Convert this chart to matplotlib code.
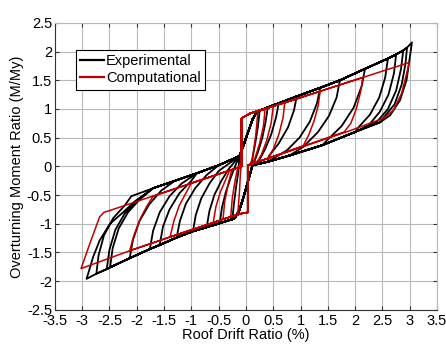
import numpy as np
import matplotlib.pyplot as plt

# ---- experimental loops ----
# envelope peaks, positive drift side
exp_pos_x = [0.25, 0.4, 0.6, 0.93, 1.36, 1.72, 2.18, 2.6, 2.75, 2.88, 2.95, 3.04]
exp_pos_y = [0.97, 1.03, 1.1, 1.22, 1.37, 1.5, 1.7, 1.88, 1.95, 2.02, 2.07, 2.16]
# envelope peaks, negative drift side
exp_neg_x = [-0.25, -0.48, -0.72, -0.97, -1.27, -1.58, -1.76, -2.13, -2.49, -2.55, -2.74, -2.92]
exp_neg_y = [-0.92, -0.99, -1.06, -1.13, -1.24, -1.37, -1.44, -1.6, -1.76, -1.79, -1.87, -1.96]
# unloading branches after each positive peak
exp_pos_unl_x = [[0.22, 0.17, 0.12], [0.36, 0.3, 0.22, 0.16], [0.55, 0.46, 0.35, 0.25],
                 [0.88, 0.77, 0.6, 0.42], [1.3, 1.17, 0.98, 0.75], [1.66, 1.52, 1.32, 1.05],
                 [2.12, 1.97, 1.75, 1.5], [2.55, 2.44, 2.27, 2.05], [2.71, 2.61, 2.45, 2.25],
                 [2.84, 2.75, 2.6, 2.4], [2.92, 2.85, 2.72, 2.52], [3.0, 2.94, 2.82, 2.64, 2.46]]
exp_pos_unl_y = [[0.7, 0.4, 0.15], [0.78, 0.5, 0.25, 0.1], [0.85, 0.55, 0.3, 0.12],
                 [0.98, 0.68, 0.4, 0.18], [1.1, 0.78, 0.5, 0.28], [1.2, 0.88, 0.6, 0.34],
                 [1.4, 1.02, 0.7, 0.47], [1.55, 1.2, 0.9, 0.67], [1.62, 1.25, 0.95, 0.72],
                 [1.7, 1.32, 1.0, 0.78], [1.78, 1.42, 1.08, 0.85], [1.9, 1.5, 1.15, 0.89, 0.77]]
# unloading branches after each negative peak
exp_neg_unl_x = [[-0.22, -0.18, -0.14], [-0.44, -0.37, -0.28, -0.2], [-0.67, -0.58, -0.45, -0.32],
                 [-0.92, -0.82, -0.67, -0.5], [-1.21, -1.1, -0.93, -0.72], [-1.52, -1.4, -1.22, -1.0],
                 [-1.7, -1.58, -1.4, -1.18], [-2.07, -1.95, -1.77, -1.55], [-2.44, -2.33, -2.16, -1.95],
                 [-2.5, -2.39, -2.22, -2.0], [-2.7, -2.6, -2.43, -2.22],
                 [-2.89, -2.8, -2.68, -2.49, -2.25, -2.05]]
exp_neg_unl_y = [[-0.65, -0.35, -0.1], [-0.72, -0.45, -0.2, 0.0], [-0.78, -0.5, -0.25, -0.05],
                 [-0.85, -0.56, -0.3, -0.08], [-0.95, -0.65, -0.38, -0.15], [-1.05, -0.75, -0.47, -0.25],
                 [-1.12, -0.8, -0.52, -0.3], [-1.28, -0.95, -0.66, -0.42], [-1.42, -1.08, -0.8, -0.58],
                 [-1.45, -1.1, -0.82, -0.6], [-1.55, -1.2, -0.9, -0.68],
                 [-1.87, -1.58, -1.29, -1.0, -0.8, -0.62]]
# pinched branches
exp_pband_x = [2.46, 2.0, 1.4, 0.8, 0.4]
exp_pband_y = [0.77, 0.6, 0.37, 0.19, 0.08]
exp_nband_x = [-2.5, -2.1, -1.7, -1.3, -0.9, -0.5]
exp_nband_y = [-0.68, -0.52, -0.38, -0.25, -0.12, 0.02]
# steep part through the origin
exp_up_x = [-0.12, -0.04, 0.04, 0.12, 0.2]
exp_up_y = [0.18, 0.38, 0.6, 0.82, 0.95]
exp_dn_x = [0.12, 0.04, -0.04, -0.12, -0.2]
exp_dn_y = [0.02, -0.25, -0.52, -0.76, -0.9]

# ---- computational loops ----
com_pos_x = [0.22, 0.35, 0.5, 0.71, 1.36, 2.14, 2.99]
com_pos_y = [0.97, 1.0, 1.05, 1.11, 1.31, 1.55, 1.81]
com_neg_x = [-0.15, -0.28, -0.42, -0.6, -1.39, -2.13, -3.02]
com_neg_y = [-0.84, -0.88, -0.92, -0.98, -1.23, -1.47, -1.78]
com_pos_unl_x = [[0.18, 0.12, 0.08], [0.32, 0.25, 0.15, 0.1], [0.46, 0.38, 0.28, 0.2],
                 [0.68, 0.6, 0.5, 0.4], [1.32, 1.25, 1.15, 1.05], [2.1, 2.02, 1.92, 1.8],
                 [2.94, 2.85, 2.7, 2.52]]
com_pos_unl_y = [[0.55, 0.15, 0.04], [0.7, 0.4, 0.1, 0.04], [0.75, 0.45, 0.2, 0.07],
                 [0.85, 0.55, 0.3, 0.14], [1.05, 0.8, 0.55, 0.36], [1.3, 1.0, 0.75, 0.6],
                 [1.61, 1.27, 0.98, 0.84]]
com_neg_unl_x = [[-0.12, -0.1, -0.09], [-0.25, -0.2, -0.16], [-0.39, -0.33, -0.26],
                 [-0.55, -0.47, -0.38, -0.3], [-1.32, -1.22, -1.12, -1.0],
                 [-2.05, -1.93, -1.82, -1.7], [-2.85, -2.68, -2.6, -2.53]]
com_neg_unl_y = [[-0.45, -0.1, -0.02], [-0.55, -0.25, -0.06], [-0.62, -0.33, -0.06],
                 [-0.7, -0.45, -0.25, -0.07], [-0.95, -0.68, -0.5, -0.29],
                 [-1.2, -0.9, -0.7, -0.52], [-1.32, -0.88, -0.8, -0.78]]
com_pband_x = [1.9]
com_pband_y = [0.62]
com_nband_x = []
com_nband_y = []
com_up_x = [-0.08, -0.08, 0.07]
com_up_y = [0.0, 0.84, 0.92]
com_dn_x = [0.04, 0.04, -0.08]
com_dn_y = [0.02, -0.80, -0.82]


def loop_path(px, py, nx, ny, pux, puy, nux, nuy, pbx, pby, nbx, nby, upx, upy, dnx, dny):
    xs, ys = list(upx), list(upy)
    for k in range(len(px)):
        xs += px[:k + 1]; ys += py[:k + 1]
        xs += pux[k]; ys += puy[k]
        last = pux[k][-1]
        for bx, by in zip(pbx, pby):
            if bx < last:
                xs.append(bx); ys.append(by)
        xs += dnx; ys += dny
        xs += nx[:k + 1]; ys += ny[:k + 1]
        xs += nux[k]; ys += nuy[k]
        last = nux[k][-1]
        for bx, by in zip(nbx, nby):
            if bx > last:
                xs.append(bx); ys.append(by)
        xs += upx; ys += upy
    return np.array(xs), np.array(ys)


plt.rcParams['font.family'] = ['Liberation Sans', 'DejaVu Sans']
plt.rcParams['axes.unicode_minus'] = False

fig = plt.figure(figsize=(4.46, 3.47), dpi=100)
ax = fig.add_axes([0.123, 0.107, 0.857, 0.827])

ex, ey = loop_path(exp_pos_x, exp_pos_y, exp_neg_x, exp_neg_y, exp_pos_unl_x, exp_pos_unl_y,
                   exp_neg_unl_x, exp_neg_unl_y, exp_pband_x, exp_pband_y, exp_nband_x, exp_nband_y,
                   exp_up_x, exp_up_y, exp_dn_x, exp_dn_y)
cx, cy = loop_path(com_pos_x, com_pos_y, com_neg_x, com_neg_y, com_pos_unl_x, com_pos_unl_y,
                   com_neg_unl_x, com_neg_unl_y, com_pband_x, com_pband_y, com_nband_x, com_nband_y,
                   com_up_x, com_up_y, com_dn_x, com_dn_y)

ax.plot(ex, ey, color='black', lw=1.3, label='Experimental', zorder=3)
ax.plot(cx, cy, color='#c00000', lw=1.1, label='Computational', zorder=4)

ax.set_xlim(-3.5, 3.5)
ax.set_ylim(-2.5, 2.5)
ax.set_xticks(np.arange(-3.5, 3.51, 0.5))
ax.set_yticks(np.arange(-2.5, 2.51, 0.5))
ax.set_xticklabels(['%g' % v for v in np.arange(-3.5, 3.51, 0.5)])
ax.set_yticklabels(['%g' % v for v in np.arange(-2.5, 2.51, 0.5)])
ax.grid(True, color='#b8b8b8', lw=0.8)
ax.set_axisbelow(True)
ax.tick_params(direction='in', length=3, top=True, right=True, labelsize=10.5, pad=2, color='#333333')
ax.tick_params(axis='x', pad=3)
for s in ['left', 'bottom']:
    ax.spines[s].set_color('#333333')
for s in ['top', 'right']:
    ax.spines[s].set_color('#b8b8b8')

ax.set_xlabel('Roof Drift Ratio (%)', fontsize=10.5, labelpad=0)
ax.set_ylabel('Overturning Moment Ratio (M/My)', fontsize=10.5, labelpad=2)

leg = ax.legend(loc='upper left', bbox_to_anchor=(0.055, 0.906), borderaxespad=0,
                fontsize=10.5, handlelength=1.6, handletextpad=0.15, fancybox=False,
                framealpha=1, edgecolor='black', borderpad=0.3, labelspacing=0.2)
leg.get_frame().set_linewidth(0.8)
for line in leg.get_lines():
    line.set_linewidth(1.6)

fig.savefig('out.png', dpi=100)
